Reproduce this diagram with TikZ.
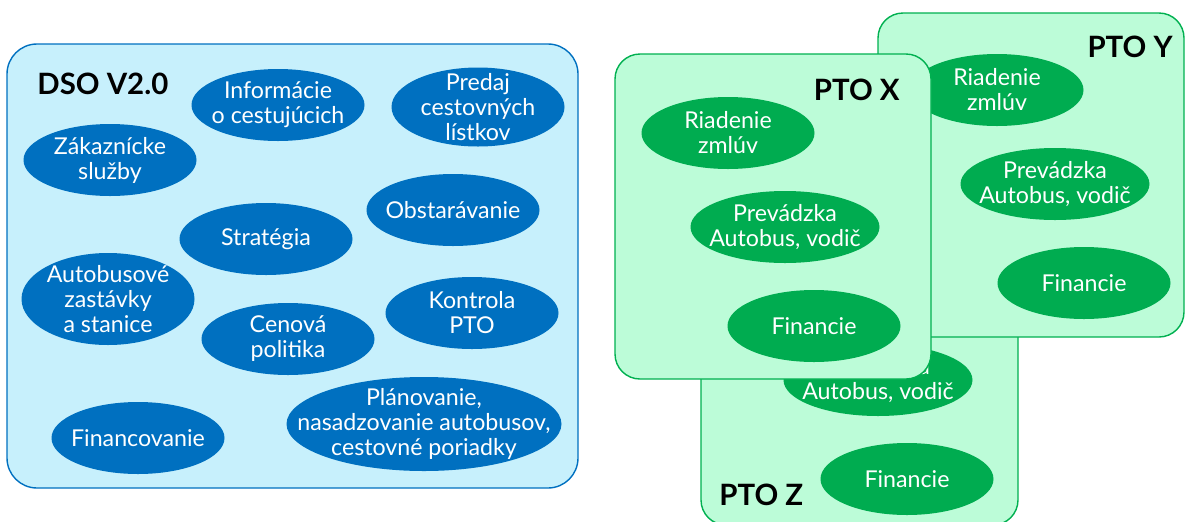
\documentclass[tikz,border=0pt]{standalone}
\usepackage{fontspec}
\setmainfont{Lato}
\usepackage{xcolor}
\usepackage{tikz}
\usetikzlibrary{shapes}

\definecolor{dsoblue}{HTML}{0070C0}
\definecolor{dsofill}{HTML}{C7F0FC}
\definecolor{ptogreen}{HTML}{00AC50}
\definecolor{ptoline}{HTML}{00B050}
\definecolor{ptofill}{HTML}{BCFCD8}

\tikzset{
  dsobox/.style={draw=dsoblue, fill=dsofill, line width=0.7pt, rounded corners=15pt},
  ptobox/.style={draw=ptoline, fill=ptofill, line width=0.7pt, rounded corners=12.5pt},
  blob/.style={ellipse, inner xsep=-22pt, inner ysep=-12pt, align=center, text=white,
    minimum width=86.5pt, minimum height=36pt, font=\fontsize{11.6}{12.5}\selectfont},
  dsoblob/.style={blob, fill=dsoblue},
  ptoblob/.style={blob, fill=ptogreen},
  title/.style={inner sep=0pt, font=\fontsize{14.7}{16}\selectfont\bfseries},
}

\begin{document}
\begin{tikzpicture}[x=0.5pt,y=-0.5pt]
  \useasboundingbox (0,0) rectangle (1185,521);

  \draw [dsobox] (7,44) rectangle (578,488);
  \node [title, anchor=west] (dso) at (37,84) {DSO V2.0};
  \node [dsoblob] (info) at (278,105) {Informácie\\o cestujúcich};
  \node [dsoblob, minimum height=39.5pt] (predaj) at (478,107) {Predaj\\cestovných\\lístkov};
  \node [dsoblob] (zakaz) at (110,160) {Zákaznícke\\služby};
  \node [dsoblob] (obstar) at (453,210) {Obstarávanie};
  \node [dsoblob] (strat) at (266,239) {Stratégia};
  \node [dsoblob, minimum height=46pt] (zast) at (108,299) {Autobusové\\zastávky\\a stanice};
  \node [dsoblob] (cena) at (288,339) {Cenová\\politika};
  \node [dsoblob] (kontrola) at (472,313) {Kontrola\\PTO};
  \node [dsoblob] (financ) at (138,438) {Financovanie};
  \node [dsoblob, minimum width=137.5pt, minimum height=47pt] (plan) at (424,424)
    {Plánovanie,\\nasadzovanie autobusov,\\cestovné poriadky};

  \draw [ptobox] (701,110) rectangle (1018,525);
  \node [title, anchor=west] (ptoz) at (719,495) {PTO Z};
  \node [ptoblob, minimum width=94.5pt] (prevz) at (878,380) {Prevádzka\\Autobus, vodič};
  \node [ptoblob] (finz) at (907,479) {Financie};

  \draw [ptobox] (878,13) rectangle (1184,337);
  \node [title, anchor=east] (ptoy) at (1173,47) {PTO Y};
  \node [ptoblob] (riady) at (997,90) {Riadenie\\zmlúv};
  \node [ptoblob, minimum width=94.5pt] (prevy) at (1055,184) {Prevádzka\\Autobus, vodič};
  \node [ptoblob] (finy) at (1084,283) {Financie};

  \draw [ptobox] (615,54) rectangle (931,379);
  \node [title, anchor=east] (ptox) at (900,90) {PTO X};
  \node [ptoblob] (riadx) at (728,133) {Riadenie\\zmlúv};
  \node [ptoblob, minimum width=94.5pt] (prevx) at (785,227) {Prevádzka\\Autobus, vodič};
  \node [ptoblob] (finx) at (814,326) {Financie};
\end{tikzpicture}
\end{document}
